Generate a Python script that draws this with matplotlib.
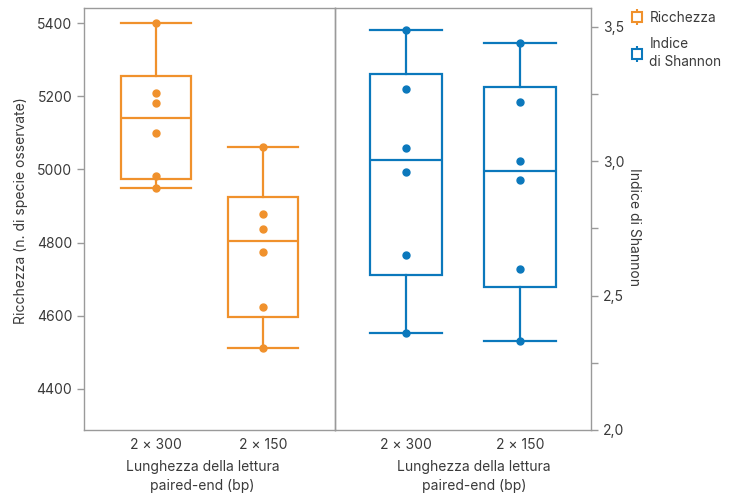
import numpy as np
import matplotlib.pyplot as plt
from matplotlib.lines import Line2D
from matplotlib.ticker import FixedLocator, FuncFormatter

plt.rcParams['font.family'] = ['Inter', 'DejaVu Sans']
plt.rcParams['font.size'] = 10

# samples per read length
groups = ['2 × 300', '2 × 150']
richness_300 = [5400, 5208, 5183, 5100, 4983, 4949]
richness_150 = [5062, 4879, 4838, 4773, 4624, 4511]
shannon_300 = [3.489, 3.269, 3.050, 2.959, 2.650, 2.360]
shannon_150 = [3.438, 3.219, 2.999, 2.928, 2.599, 2.330]

orange = '#F0912C'
blue = '#0B78BC'
grey = '#9A9A9A'
txt = '#3A3A3A'


def box_stats(values):
    v = np.asarray(values)
    q1, med, q3 = np.percentile(v, [25, 50, 75], method='weibull')
    return dict(med=med, q1=q1, q3=q3, whislo=v.min(), whishi=v.max(), fliers=[])


def draw_panel(ax, samples, color, width):
    stats = [box_stats(s) for s in samples]
    lw = 1.6
    ax.bxp(stats, positions=range(len(samples)), widths=width, capwidths=width,
           showfliers=False, patch_artist=True,
           boxprops=dict(facecolor='white', edgecolor=color, linewidth=lw),
           medianprops=dict(color=color, linewidth=lw),
           whiskerprops=dict(color=color, linewidth=lw),
           capprops=dict(color=color, linewidth=lw))
    for i, s in enumerate(samples):
        ax.plot([i] * len(s), s, 'o', color=color, markersize=5, zorder=5)
    ax.set_xticks(range(len(groups)))
    ax.set_xticklabels(groups)
    ax.tick_params(axis='x', length=0, pad=6, labelcolor=txt)
    ax.tick_params(axis='y', length=5, width=1, color=grey, labelcolor=txt)
    for sp in ax.spines.values():
        sp.set_color(grey)
        sp.set_linewidth(1)


fig = plt.figure(figsize=(7.34, 4.95), dpi=100)
ax1 = fig.add_axes([84 / 734, 65 / 495, 251 / 734, 422 / 495])
ax2 = fig.add_axes([335 / 734, 65 / 495, 256 / 734, 422 / 495])

draw_panel(ax1, [richness_300, richness_150], orange, 0.66)
ax1.set_xlim(-0.673, 1.673)
ax1.set_ylim(4287, 5442)
ax1.set_yticks([4400, 4600, 4800, 5000, 5200, 5400])
ax1.set_ylabel('Ricchezza (n. di specie osservate)', color=txt)
ax1.yaxis.set_label_coords(-0.225, 0.52)

draw_panel(ax2, [shannon_300, shannon_150], blue, 0.63)
ax2.set_xlim(-0.625, 1.625)
ax2.set_ylim(2.0, 3.569)
ax2.patch.set_alpha(0)
ax2.yaxis.tick_right()
ax2.yaxis.set_major_locator(FixedLocator([2.0, 2.5, 3.0, 3.5]))
ax2.yaxis.set_minor_locator(FixedLocator([2.25, 2.75, 3.25]))
ax2.yaxis.set_major_formatter(FuncFormatter(lambda v, p: f'{v:.1f}'.replace('.', ',')))
ax2.tick_params(axis='y', which='minor', length=5, width=1, color=grey)
ax2.yaxis.set_label_position('right')
ax2.set_ylabel('Indice di Shannon', color=txt, rotation=-90, va='bottom')
ax2.yaxis.set_label_coords(1.14, 0.48)

xlab = 'Lunghezza della lettura\npaired-end (bp)'
ax1.set_xlabel(xlab, color=txt, linespacing=1.5)
ax1.xaxis.set_label_coords(0.4725, -0.07)
ax1.xaxis.label.set_va('top')
ax2.set_xlabel(xlab, color=txt, linespacing=1.5)
ax2.xaxis.set_label_coords(0.543, -0.07)
ax2.xaxis.label.set_va('top')

# legend with small box glyphs
def glyph(color):
    stem = Line2D([], [], color=color, marker='|', linestyle='none', markersize=11, markeredgewidth=1.5)
    box = Line2D([], [], color=color, marker='s', markerfacecolor='white', linestyle='none',
                 markersize=7, markeredgewidth=1.5)
    return (stem, box)

leg = fig.legend([glyph(orange), glyph(blue)], ['Ricchezza', 'Indice\ndi Shannon'],
                 loc='upper left', bbox_to_anchor=(0.842, 1.003), frameon=False,
                 handlelength=1.0, handletextpad=0.4, labelspacing=0.9, fontsize=9.8,
                 labelcolor=txt)
for t in leg.get_texts():
    t.set_linespacing(1.35)

fig.savefig('out.png', dpi=100)
